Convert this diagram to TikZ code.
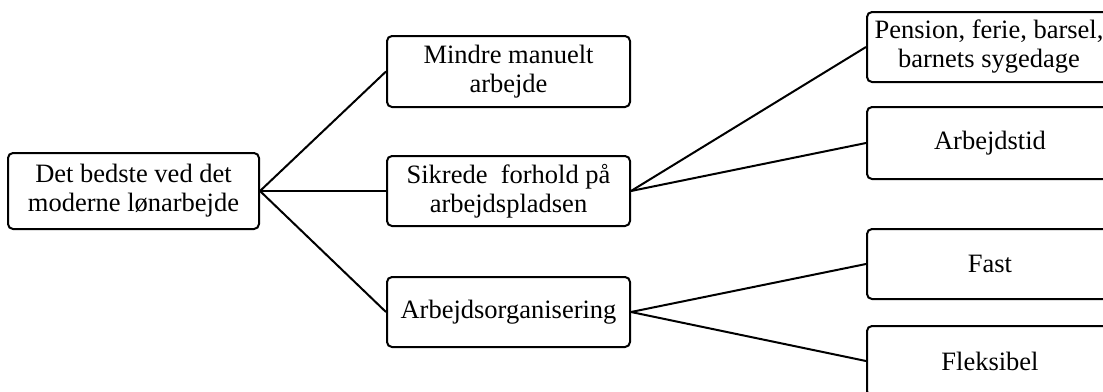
\documentclass[tikz,border=0pt]{standalone}
\usepackage{fontspec}
\setmainfont{Liberation Serif}
\begin{document}
\begin{tikzpicture}[x=1pt,y=-1pt,
  box/.style={draw, line width=2pt, rounded corners=5pt, align=center,
    font=\fontsize{26.5}{29}\selectfont, inner sep=0pt, anchor=center},
  link/.style={line width=2pt}]
\useasboundingbox (0,0) rectangle (1103,391);
\clip (0,0) rectangle (1103,391);
\node[box, minimum width=251pt, minimum height=76pt] (root) at (133.5,191) {Det bedste ved det\\moderne lønarbejde};
\node[box, minimum width=243pt, minimum height=71pt] (m1) at (508.5,71.5) {Mindre manuelt\\arbejde};
\node[box, minimum width=243pt, minimum height=70pt] (m2) at (508.5,191) {Sikrede\ \ forhold på\\arbejdspladsen};
\node[box, minimum width=243pt, minimum height=70pt] (m3) at (508.5,312) {Arbejdsorganisering};
\node[box, minimum width=244pt, minimum height=70pt] (r1) at (989,47) {Pension, ferie, barsel,\\barnets sygedage};
\node[box, minimum width=246pt, minimum height=72pt] (r2) at (990,143) {Arbejdstid};
\node[box, minimum width=246pt, minimum height=70pt] (r3) at (990,264) {Fast};
\node[box, minimum width=246pt, minimum height=70pt] (r4) at (990,361) {Fleksibel};
\draw[link] (root.east) -- (m1.west);
\draw[link] (root.east) -- (m2.west);
\draw[link] (root.east) -- (m3.west);
\draw[link] (m2.east) -- (r1.west);
\draw[link] (m2.east) -- (r2.west);
\draw[link] (m3.east) -- (r3.west);
\draw[link] (m3.east) -- (r4.west);
\end{tikzpicture}
\end{document}
